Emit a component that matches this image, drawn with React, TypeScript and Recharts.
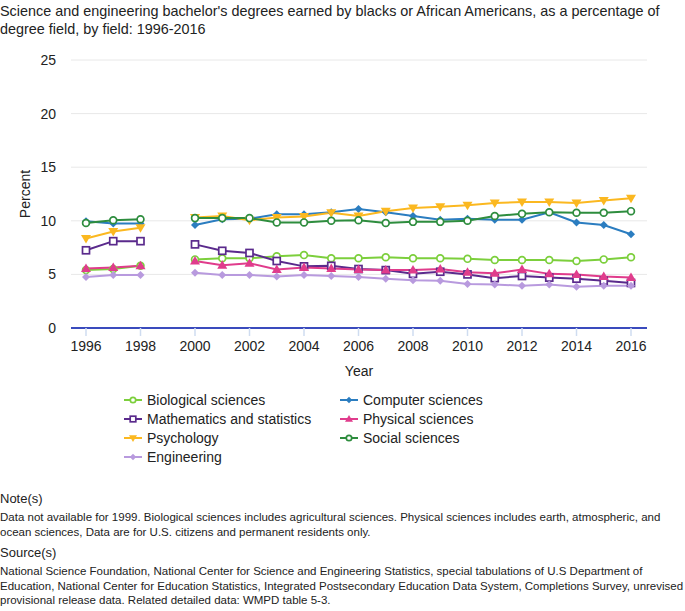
import { LineChart, Line, XAxis, YAxis, CartesianGrid, Legend } from "recharts";

const years = [
  1996, 1997, 1998, 1999, 2000, 2001, 2002, 2003, 2004, 2005, 2006, 2007,
  2008, 2009, 2010, 2011, 2012, 2013, 2014, 2015, 2016,
];
const xTicks = [1996, 1998, 2000, 2002, 2004, 2006, 2008, 2010, 2012, 2014, 2016];
const yTicks = [0, 5, 10, 15, 20, 25];

// 1999 has no data
const biological = [5.4, 5.5, 5.8, null, 6.4, 6.5, 6.5, 6.7, 6.8, 6.5, 6.5, 6.6, 6.5, 6.5, 6.45, 6.35, 6.35, 6.35, 6.25, 6.4, 6.6];
const computer = [9.95, 9.75, 9.75, null, 9.6, 10.15, 10.2, 10.6, 10.6, 10.8, 11.1, 10.8, 10.45, 10.1, 10.2, 10.1, 10.1, 10.8, 9.85, 9.6, 8.75];
const mathStats = [7.25, 8.1, 8.1, null, 7.8, 7.2, 7.0, 6.25, 5.75, 5.8, 5.5, 5.4, 5.05, 5.25, 5.0, 4.65, 4.85, 4.7, 4.6, 4.4, 4.2];
const physical = [5.55, 5.65, 5.8, null, 6.25, 5.85, 6.05, 5.45, 5.65, 5.55, 5.45, 5.4, 5.4, 5.5, 5.2, 5.1, 5.45, 5.05, 5.0, 4.8, 4.7];
const psychology = [8.35, 9.0, 9.35, null, 10.3, 10.45, 10.05, 10.3, 10.4, 10.75, 10.45, 10.9, 11.2, 11.3, 11.45, 11.65, 11.75, 11.75, 11.65, 11.9, 12.1];
const social = [9.8, 10.05, 10.15, null, 10.25, 10.25, 10.25, 9.85, 9.85, 10.0, 10.05, 9.8, 9.9, 9.9, 10.0, 10.45, 10.65, 10.8, 10.75, 10.75, 10.9];
const engineering = [4.75, 4.95, 4.95, null, 5.15, 4.95, 4.95, 4.8, 4.95, 4.85, 4.75, 4.6, 4.45, 4.4, 4.1, 4.05, 3.95, 4.05, 3.85, 3.95, 3.95];

const series = [
  { key: "bio", name: "Biological sciences", values: biological, color: "#7ccf3c", shape: "circle" },
  { key: "comp", name: "Computer sciences", values: computer, color: "#2b7dc0", shape: "diamond" },
  { key: "math", name: "Mathematics and statistics", values: mathStats, color: "#5a2a8c", shape: "square" },
  { key: "phys", name: "Physical sciences", values: physical, color: "#e03c8c", shape: "triUp" },
  { key: "psych", name: "Psychology", values: psychology, color: "#fbb820", shape: "triDown" },
  { key: "soc", name: "Social sciences", values: social, color: "#2e8d3e", shape: "circle" },
  { key: "eng", name: "Engineering", values: engineering, color: "#b89ade", shape: "diamond" },
];

const data = years.map((year, i) => {
  const row: any = { year };
  series.forEach((s) => {
    row[s.key] = s.values[i];
  });
  return row;
});

const FONT = '"Liberation Sans", Arial, Helvetica, sans-serif';

function marker(shape: string, color: string, cx: number, cy: number, k = 1) {
  if (shape === "circle")
    return <circle cx={cx} cy={cy} r={3.4 * k} fill="#fff" stroke={color} strokeWidth={1.7} />;
  if (shape === "square")
    return (
      <rect x={cx - 3.5 * k} y={cy - 3.5 * k} width={7 * k} height={7 * k} fill="#fff" stroke={color} strokeWidth={1.7} />
    );
  if (shape === "triUp")
    return <path d={`M${cx},${cy - 5 * k}L${cx + 5 * k},${cy + 3.5 * k}L${cx - 5 * k},${cy + 3.5 * k}Z`} fill={color} />;
  if (shape === "triDown")
    return <path d={`M${cx},${cy + 5 * k}L${cx + 5 * k},${cy - 3.5 * k}L${cx - 5 * k},${cy - 3.5 * k}Z`} fill={color} />;
  return <path d={`M${cx},${cy - 4 * k}L${cx + 4 * k},${cy}L${cx},${cy + 4 * k}L${cx - 4 * k},${cy}Z`} fill={color} />;
}

function makeDot(shape: string, color: string) {
  return (props: any) => {
    const { cx, cy, index } = props;
    if (cx == null || cy == null) return <g key={`d-${index}`} />;
    return <g key={`d-${index}`}>{marker(shape, color, cx, cy)}</g>;
  };
}

function LegendBox() {
  return (
    <div
      style={{
        display: "grid",
        gridTemplateColumns: "216px 216px",
        gridAutoRows: "19px",
        fontFamily: FONT,
        fontSize: 14,
        color: "#222",
      }}
    >
      {series.map((s) => (
        <div key={s.key} style={{ display: "flex", alignItems: "center", whiteSpace: "nowrap" }}>
          <svg width={18} height={12} style={{ marginRight: 5 }}>
            <line x1={0} y1={6} x2={18} y2={6} stroke={s.color} strokeWidth={2} />
            {marker(s.shape, s.color, 9, 6, 0.8)}
          </svg>
          <span>{s.name}</span>
        </div>
      ))}
    </div>
  );
}

export default function App() {
  return (
    <div style={{ position: "absolute", left: 0, top: 0, width: 685, height: 611, background: "#fff", fontFamily: FONT }}>
      <div style={{ position: "absolute", left: 0, top: 2, width: 685, fontSize: 14.4, lineHeight: "18px", color: "#222" }}>
        Science and engineering bachelor's degrees earned by blacks or African Americans, as a percentage of degree field, by field: 1996-2016
      </div>
      <div style={{ position: "absolute", left: 0, top: 40 }}>
        <LineChart width={685} height={440} data={data} margin={{ top: 20, right: 38, bottom: 104, left: 0 }}>
          <CartesianGrid horizontal vertical={false} stroke="#e8e8e8" />
          <XAxis
            dataKey="year"
            type="number"
            domain={[1996, 2016]}
            ticks={xTicks}
            padding={{ left: 15, right: 16 }}
            height={48}
            axisLine={{ stroke: "#3a4bbd", strokeWidth: 2 }}
            tickLine={{ stroke: "#cfdcf0", strokeWidth: 1.5 }}
            tickSize={8}
            tickMargin={5}
            tick={{ fill: "#222", fontSize: 14, fontFamily: FONT }}
            label={{ value: "Year", position: "insideBottom", offset: 0, fill: "#222", fontSize: 14, fontFamily: FONT }}
          />
          <YAxis
            type="number"
            domain={[0, 25]}
            ticks={yTicks}
            width={71}
            axisLine={false}
            tickLine={false}
            tickMargin={9}
            tick={{ fill: "#222", fontSize: 14, fontFamily: FONT }}
            label={{
              content: () => (
                <text
                  x={25}
                  y={154}
                  transform="rotate(-90 25 154)"
                  textAnchor="middle"
                  dominantBaseline="central"
                  fill="#222"
                  fontSize={14}
                  fontFamily={FONT}
                >
                  Percent
                </text>
              ),
            }}
          />
          <Legend
            layout="horizontal"
            verticalAlign="middle"
            align="center"
            wrapperStyle={{ top: 350, left: 124, width: 440 }}
            content={() => <LegendBox />}
          />
          {series.map((s) => (
            <Line
              key={s.key}
              dataKey={s.key}
              name={s.name}
              stroke={s.color}
              strokeWidth={2}
              dot={makeDot(s.shape, s.color)}
              activeDot={false}
              connectNulls={false}
              isAnimationActive={false}
            />
          ))}
        </LineChart>
      </div>
      <div style={{ position: "absolute", left: 0, top: 491, width: 685, color: "#222", whiteSpace: "nowrap" }}>
        <div style={{ fontSize: 13, lineHeight: "16px" }}>Note(s)</div>
        <div style={{ fontSize: 11.5, lineHeight: "14.5px", marginTop: 3 }}>
          Data not available for 1999. Biological sciences includes agricultural sciences. Physical sciences includes earth, atmospheric, and
          <br />
          ocean sciences, Data are for U.S. citizens and permanent residents only.
        </div>
        <div style={{ fontSize: 13, lineHeight: "16px", marginTop: 6 }}>Source(s)</div>
        <div style={{ fontSize: 11.5, lineHeight: "14.5px", marginTop: 3 }}>
          National Science Foundation, National Center for Science and Engineering Statistics, special tabulations of U.S Department of
          <br />
          Education, National Center for Education Statistics, Integrated Postsecondary Education Data System, Completions Survey, unrevised
          <br />
          provisional release data. Related detailed data: WMPD table 5-3.
        </div>
      </div>
    </div>
  );
}
